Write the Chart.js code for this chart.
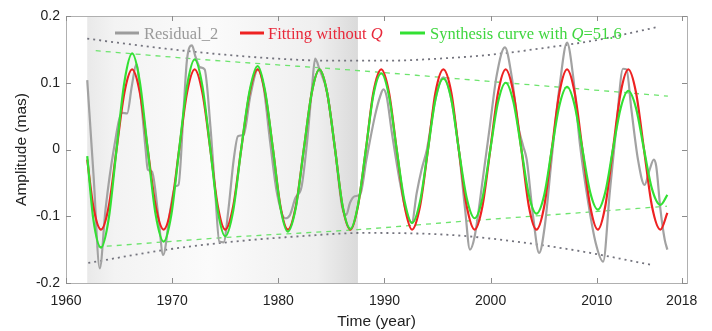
<!DOCTYPE html>
<html><head><meta charset="utf-8">
<script src="https://cdn.jsdelivr.net/npm/chart.js@4.4.0/dist/chart.umd.min.js"></script>
<style>html,body{margin:0;padding:0;background:#fff}#wrap{width:712px;height:331px;position:relative}</style>
</head><body><div id="wrap"><canvas id="c" width="712" height="331"></canvas></div>
<script>
// ---- data ----
const fitYears = [1962.0,1962.57,1963.3,1964.03,1964.76,1965.5,1966.23,1966.96,1967.7,1968.45,1969.2,1969.93,1970.66,1971.4,1972.12,1972.85,1973.6,1974.3,1975.0,1975.75,1976.5,1977.3,1978.05,1978.75,1979.5,1980.2,1980.9,1981.65,1982.4,1983.15,1983.88,1984.6,1985.35,1986.05,1986.8,1987.5,1988.25,1988.95,1989.7,1990.43,1991.15,1991.9,1992.6,1993.35,1994.1,1994.8,1995.55,1996.3,1997.0,1997.75,1998.5,1999.23,1999.97,2000.7,2001.42,2002.15,2002.9,2003.6,2004.32,2005.05,2005.76,2006.48,2007.2,2007.92,2008.65,2009.38,2010.1,2010.8,2011.52,2012.25,2012.97,2013.7,2014.45,2015.2,2016.0,2016.65];
const fitValues = [-0.015,-0.085,-0.12,-0.085,0,0.085,0.12,0.085,0,-0.085,-0.12,-0.085,0,0.085,0.12,0.085,0,-0.085,-0.12,-0.085,0,0.085,0.12,0.085,0,-0.085,-0.12,-0.085,0,0.085,0.12,0.085,0,-0.085,-0.12,-0.085,0,0.085,0.12,0.085,0,-0.085,-0.12,-0.085,0,0.085,0.12,0.085,0,-0.085,-0.12,-0.085,0,0.085,0.12,0.085,0,-0.085,-0.12,-0.085,0,0.085,0.12,0.085,0,-0.085,-0.12,-0.085,0,0.085,0.12,0.085,0,-0.085,-0.12,-0.095];
const synthValues = [-0.01,-0.104,-0.147,-0.103,0,0.101,0.144,0.101,0,-0.098,-0.138,-0.097,0,0.095,0.135,0.095,0,-0.092,-0.13,-0.092,0,0.088,0.125,0.088,0,-0.087,-0.123,-0.087,0,0.085,0.12,0.085,0,-0.084,-0.119,-0.084,0,0.081,0.114,0.08,0,-0.078,-0.11,-0.078,0,0.075,0.106,0.075,0,-0.073,-0.103,-0.073,0,0.071,0.1,0.071,0,-0.068,-0.096,-0.068,0,0.066,0.094,0.066,0,-0.064,-0.09,-0.064,0,0.062,0.088,0.062,0,-0.059,-0.083,-0.068];
const residYears = [1962.0,1962.6,1963.18,1963.72,1964.5,1965.29,1965.76,1966.2,1966.63,1967.0,1967.5,1967.7,1968.1,1968.7,1969.15,1969.83,1970.3,1970.6,1971.08,1971.4,1971.87,1972.18,1972.65,1973.06,1973.6,1974.06,1974.44,1974.85,1975.3,1975.8,1976.2,1976.73,1977.36,1978.08,1978.6,1979.24,1979.87,1980.65,1981.1,1981.6,1982.2,1982.7,1983.16,1983.47,1983.88,1984.6,1985.35,1986.0,1986.4,1986.75,1987.2,1987.7,1988.3,1989.1,1989.6,1989.9,1990.2,1990.7,1991.47,1992.0,1992.57,1993.04,1993.5,1994.0,1994.8,1995.55,1996.3,1997.0,1997.6,1998.05,1998.5,1999.3,1999.93,2000.56,2001.35,2001.98,2002.6,2003.07,2003.4,2004.0,2004.57,2005.1,2005.74,2006.5,2007.2,2007.77,2008.4,2009.2,2009.9,2010.6,2011.22,2011.85,2012.47,2012.8,2013.26,2013.88,2014.5,2014.98,2015.38,2015.6,2016.0,2016.4,2016.65];
const residValues = [0.104,-0.04,-0.178,-0.09,0.0,0.055,0.054,0.095,0.128,0.085,0.0,-0.03,-0.033,-0.1,-0.158,-0.09,-0.055,-0.053,0.06,0.135,0.156,0.14,0.123,0.12,0.035,-0.065,-0.138,-0.139,-0.09,-0.015,0.02,0.022,0.08,0.12,0.095,0.01,-0.065,-0.103,-0.098,-0.073,-0.055,0.01,0.09,0.136,0.12,0.085,0.0,-0.085,-0.098,-0.08,-0.07,-0.068,-0.015,0.05,0.08,0.09,0.08,0.025,-0.05,-0.09,-0.11,-0.065,-0.03,0.0,0.075,0.108,0.075,0.0,-0.09,-0.15,-0.13,-0.04,0.035,0.11,0.153,0.11,0.035,0.005,-0.015,-0.1,-0.155,-0.115,-0.015,0.095,0.16,0.11,0.01,-0.08,-0.14,-0.168,-0.065,0.035,0.121,0.12,0.06,-0.015,-0.053,-0.03,-0.015,-0.025,-0.09,-0.135,-0.15];
const synthUpperYears = [1962.8,1972.7,1987.7,2001.4,2016.7];
const synthUpperValues = [0.148,0.135,0.118,0.1,0.08];
const synthLowerYears = [1962.9,1975.8,1987.5,1996.2,2005.6,2016.6];
const synthLowerValues = [-0.146,-0.131,-0.12,-0.109,-0.098,-0.085];
const residUpperYears = [1962.0,1969.4,1975,1980,1985,1990,1995,2000,2005,2010,2015.6];
const residUpperValues = [0.166,0.151,0.142,0.136,0.133,0.133,0.136,0.142,0.152,0.164,0.183];
const residLowerYears = [1962.1,1969.5,1975.8,1982,1988,1996.2,2002.4,2008.7,2015.2];
const residLowerValues = [-0.17,-0.15,-0.138,-0.13,-0.125,-0.128,-0.138,-0.153,-0.173];
const xTicks = [1960,1970,1980,1990,2000,2010,2018];
const yTicks = [-0.2,-0.1,0,0.1,0.2];
const shadeFrom = 1962.0, shadeTo = 1987.5;
const seriesNames = ['Residual_2','Fitting without ','Synthesis curve with '];

const pts = (xs, ys) => xs.map((x, i) => ({x: x, y: ys[i]}));
const SERIF = '"Liberation Serif","DejaVu Serif",serif';
const SANS = '"Liberation Sans",Arial,sans-serif';

const shadePlugin = {
  id: 'shade',
  beforeDatasetsDraw(chart) {
    const {ctx, chartArea: a, scales: {x}} = chart;
    const x0 = x.getPixelForValue(shadeFrom), x1 = x.getPixelForValue(shadeTo);
    const g = ctx.createLinearGradient(x0, 0, x1, 0);
    g.addColorStop(0, '#e9e9e9');
    g.addColorStop(0.1, '#f3f3f3');
    g.addColorStop(0.45, '#fbfbfb');
    g.addColorStop(0.85, '#efefef');
    g.addColorStop(1, '#dadada');
    ctx.save();
    ctx.fillStyle = g;
    ctx.fillRect(x0, a.top, x1 - x0, a.bottom - a.top);
    ctx.restore();
  }
};

const framePlugin = {
  id: 'frame',
  afterDraw(chart) {
    const {ctx, chartArea: a, scales: {x, y}} = chart;
    ctx.save();
    ctx.strokeStyle = '#b0b0b0';
    ctx.lineWidth = 1;
    ctx.strokeRect(Math.round(a.left) + 0.5, Math.round(a.top) + 0.5, Math.round(a.right - a.left), Math.round(a.bottom - a.top));
    ctx.strokeStyle = '#8c8c8c';
    ctx.beginPath();
    xTicks.forEach(t => {
      const p = Math.round(x.getPixelForValue(t)) + 0.5;
      ctx.moveTo(p, a.bottom); ctx.lineTo(p, a.bottom - 5);
      ctx.moveTo(p, a.top); ctx.lineTo(p, a.top + 5);
    });
    yTicks.forEach(t => {
      const p = Math.round(y.getPixelForValue(t)) + 0.5;
      ctx.moveTo(a.left, p); ctx.lineTo(a.left + 5, p);
      ctx.moveTo(a.right, p); ctx.lineTo(a.right - 5, p);
    });
    ctx.stroke();

    // legend
    const base = 38.5;
    const items = [
      {x1: 115, x2: 139, tx: 144, color: '#9c9c9c', tcolor: '#9a9a9a', parts: [[seriesNames[0], false]]},
      {x1: 240, x2: 264, tx: 268, color: '#ee2222', tcolor: '#e8283a', parts: [[seriesNames[1], false], ['Q', true]]},
      {x1: 400, x2: 425, tx: 430, color: '#33e033', tcolor: '#3fd63f', parts: [[seriesNames[2], false], ['Q', true], ['=51.6', false]]}
    ];
    items.forEach(it => {
      ctx.strokeStyle = it.color; ctx.lineWidth = 3;
      ctx.beginPath(); ctx.moveTo(it.x1, 33); ctx.lineTo(it.x2, 33); ctx.stroke();
      let tx = it.tx;
      ctx.fillStyle = it.tcolor;
      ctx.textBaseline = 'alphabetic';
      it.parts.forEach(([s, ital]) => {
        ctx.font = (ital ? 'italic ' : '') + '16.5px ' + SERIF;
        ctx.fillText(s, tx, base);
        tx += ctx.measureText(s).width;
      });
    });
    ctx.restore();
  }
};

const ctx = document.getElementById('c').getContext('2d');
new Chart(ctx, {
  type: 'line',
  data: {
    datasets: [
      {label: 'Synthesis curve with Q=51.6', data: pts(fitYears, synthValues), borderColor: '#33e033', borderWidth: 2.2, pointRadius: 0, cubicInterpolationMode: 'monotone', fill: false},
      {label: 'Fitting without Q', data: pts(fitYears, fitValues), borderColor: '#ee2222', borderWidth: 2.2, pointRadius: 0, cubicInterpolationMode: 'monotone', fill: false},
      {label: 'Residual_2', data: pts(residYears, residValues), borderColor: '#a2a2a2', borderWidth: 2.2, pointRadius: 0, cubicInterpolationMode: 'monotone', fill: false},
      {label: 'env1', data: pts(synthUpperYears, synthUpperValues), borderColor: '#6ee46e', borderWidth: 1.3, borderDash: [5, 5], pointRadius: 0, cubicInterpolationMode: 'monotone'},
      {label: 'env2', data: pts(synthLowerYears, synthLowerValues), borderColor: '#6ee46e', borderWidth: 1.3, borderDash: [5, 5], pointRadius: 0, cubicInterpolationMode: 'monotone'},
      {label: 'env3', data: pts(residUpperYears, residUpperValues), borderColor: '#74747e', borderWidth: 1.8, borderDash: [2, 4], pointRadius: 0, cubicInterpolationMode: 'monotone'},
      {label: 'env4', data: pts(residLowerYears, residLowerValues), borderColor: '#74747e', borderWidth: 1.8, borderDash: [2, 4], pointRadius: 0, cubicInterpolationMode: 'monotone'}
    ]
  },
  options: {
    responsive: false,
    animation: false,
    devicePixelRatio: 1,
    layout: {padding: {left: 0, right: 25, top: 16, bottom: 0}},
    plugins: {legend: {display: false}, tooltip: {enabled: false}},
    scales: {
      x: {
        type: 'linear', min: 1960, max: 2018.5,
        grid: {display: false, drawTicks: false},
        border: {display: false},
        afterBuildTicks: s => { s.ticks = xTicks.map(v => ({value: v})); },
        afterFit: s => { s.height = 48; },
        ticks: {autoSkip: false, maxRotation: 0, padding: 10, color: '#222', font: {family: SANS, size: 14}, callback: v => String(v)},
        title: {display: true, text: 'Time (year)', color: '#222', font: {family: SANS, size: 15.5}, padding: {top: 0, bottom: 0}}
      },
      y: {
        type: 'linear', min: -0.2, max: 0.2,
        grid: {display: false, drawTicks: false},
        border: {display: false},
        afterBuildTicks: s => { s.ticks = yTicks.map(v => ({value: v})); },
        afterFit: s => { s.width = 66; },
        ticks: {padding: 6, color: '#222', font: {family: SANS, size: 14}, callback: v => { const r = Math.round(v * 10) / 10; return r === 0 ? '0' : String(r); }},
        title: {display: true, text: 'Amplitude (mas)', color: '#222', font: {family: SANS, size: 15.5}, padding: {top: 12, bottom: 0}}
      }
    }
  },
  plugins: [shadePlugin, framePlugin]
});
</script>
</body></html>
